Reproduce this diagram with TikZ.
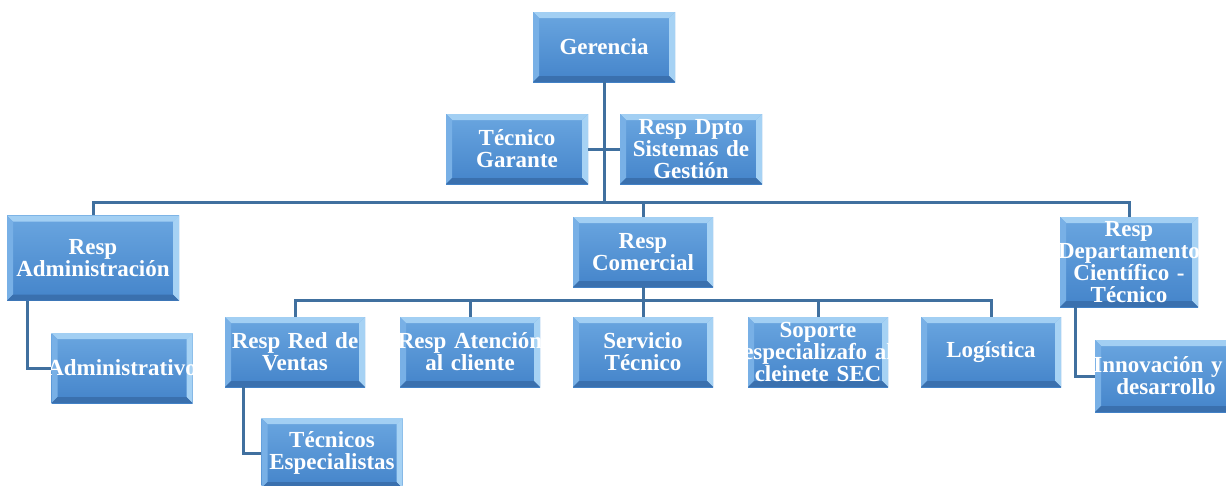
\documentclass[tikz,border=0pt]{standalone}
\usepackage{fontspec}
\setmainfont{Liberation Serif}
\definecolor{facetop}{HTML}{6AA6E0}
\definecolor{facebot}{HTML}{4484CA}
\definecolor{bevtop}{HTML}{A2CFF3}
\definecolor{bevleft}{HTML}{78B0E6}
\definecolor{bevright}{HTML}{A6D2F4}
\definecolor{bevbot}{HTML}{3A70AE}
\definecolor{linec}{HTML}{40709F}
\newcommand\cl[1]{\makebox[\linewidth][c]{#1}}
\tikzset{
  box/.style={rectangle, inner sep=0pt, align=center, text=white,
    font=\bfseries\fontsize{23}{22}\selectfont,
    top color=facetop, bottom color=facebot,
    path picture={
      \coordinate (pnw) at (path picture bounding box.north west);
      \coordinate (pne) at (path picture bounding box.north east);
      \coordinate (psw) at (path picture bounding box.south west);
      \coordinate (pse) at (path picture bounding box.south east);
      \fill[bevtop] (pnw) -- (pne) -- ([shift={(-6pt,-6pt)}]pne) -- ([shift={(6pt,-6pt)}]pnw) -- cycle;
      \fill[bevleft] (pnw) -- ([shift={(6pt,-6pt)}]pnw) -- ([shift={(6pt,6pt)}]psw) -- (psw) -- cycle;
      \fill[bevright] (pne) -- (pse) -- ([shift={(-6pt,6pt)}]pse) -- ([shift={(-6pt,-6pt)}]pne) -- cycle;
      \fill[bevbot] (psw) -- ([shift={(6pt,6pt)}]psw) -- ([shift={(-6pt,6pt)}]pse) -- (pse) -- cycle;
    }},
  bx/.style n args={2}{minimum width=#1, text width=#1, minimum height=#2},
  conn/.style={draw=linec, line width=3pt}
}
\begin{document}
\begin{tikzpicture}[x=1pt,y=-1pt]
\useasboundingbox[fill=white] (0,0) rectangle (1226,485);
% nodes
\node[box, bx={142pt}{70pt}] (ger) at (604,47) {\cl{Gerencia}};
\node[box, bx={142pt}{70pt}] (tga) at (517,149) {\cl{Técnico}\\\cl{Garante}};
\node[box, bx={142pt}{70pt}] (sis) at (691,149) {\cl{Resp Dpto}\\\cl{Sistemas de}\\\cl{Gestión}};
\node[box, bx={172pt}{85pt}] (adm) at (93,258) {\cl{Resp}\\\cl{Administración}};
\node[box, bx={140pt}{70pt}] (com) at (643,252) {\cl{Resp}\\\cl{Comercial}};
\node[box, bx={138pt}{90pt}] (dep) at (1129,262) {\cl{Resp}\\\cl{Departamento}\\\cl{Científico -}\\\cl{Técnico}};
\node[box, bx={141pt}{70pt}] (adt) at (122,368) {\cl{Administrativo}};
\node[box, bx={140pt}{70pt}] (ven) at (295,352) {\cl{Resp Red de}\\\cl{Ventas}};
\node[box, bx={140pt}{70pt}] (ate) at (470,352) {\cl{Resp Atención}\\\cl{al cliente}};
\node[box, bx={140pt}{70pt}] (ser) at (643,352) {\cl{Servicio}\\\cl{Técnico}};
\node[box, bx={140pt}{70pt}] (sop) at (818,352) {\cl{Soporte}\\\cl{especializafo al}\\\cl{cleinete SEC}};
\node[box, bx={140pt}{70pt}] (log) at (991,352) {\cl{Logística}};
\node[box, bx={141pt}{70pt}] (tes) at (332,453) {\cl{Técnicos}\\\cl{Especialistas}};
\node[box, bx={142pt}{72pt}] (inn) at (1166,376) {\cl{\hspace*{-16pt}Innovación y}\\\cl{desarrollo}};
% connectors
\coordinate (b1) at (604,202);
\coordinate (b2) at (643,300);
\draw[conn] (ger.south) -- (b1);
\draw[conn] (tga.east) -- (sis.west);
\draw[conn] (b1) -| (adm.north);
\draw[conn] (b1) -| (dep.north);
\draw[conn] (b1) -| (com.north);
\draw[conn] (com.south) -- (b2);
\draw[conn] (b2) -| (ven.north);
\draw[conn] (b2) -| (ate.north);
\draw[conn] (b2) -- (ser.north);
\draw[conn] (b2) -| (sop.north);
\draw[conn] (b2) -| (log.north);
\draw[conn] ([xshift=-66pt]adm.south) |- (adt.west);
\draw[conn] ([xshift=-52pt]ven.south) |- (tes.west);
\draw[conn] ([xshift=-54pt]dep.south) |- (inn.west);
\end{tikzpicture}
\end{document}
